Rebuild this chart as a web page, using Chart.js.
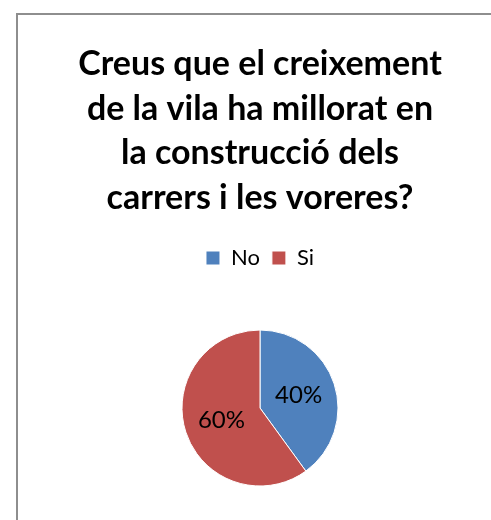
<!DOCTYPE html>
<html>
<head>
<meta charset="utf-8">
<script src="https://cdn.jsdelivr.net/npm/chart.js@4"></script>
<style>
  html, body { margin: 0; padding: 0; background: #fff; overflow: hidden; }
  .frame {
    position: absolute;
    left: 16px;
    top: 13px;
    width: 484px;
    height: 540px;
    border: 2px solid #8e8e8e;
    background: #fff;
  }
</style>
</head>
<body>
<div class="frame">
  <canvas id="pieChart" width="484" height="540"></canvas>
</div>
<script>
const titleLines = [
  "Creus que el creixement",
  "de la vila ha millorat en",
  "la construcció dels",
  "carrers i les voreres?",
];
const categories = ["No", "Si"];
const values = [40, 60];
const colors = ["#4f81bd", "#c0504d"];

// percentage labels drawn inside each slice
const sliceLabels = {
  id: "sliceLabels",
  afterDatasetsDraw(chart) {
    const ctx = chart.ctx;
    const meta = chart.getDatasetMeta(0);
    const total = values.reduce((a, b) => a + b, 0);
    ctx.save();
    ctx.font = "24px Lato";
    ctx.fillStyle = "#000";
    ctx.textAlign = "center";
    ctx.textBaseline = "middle";
    meta.data.forEach((arc, i) => {
      const mid = (arc.startAngle + arc.endAngle) / 2;
      const r = arc.outerRadius * 0.52;
      const x = arc.x + Math.cos(mid) * r;
      const y = arc.y + Math.sin(mid) * r;
      ctx.fillText(Math.round((values[i] / total) * 100) + "%", x, y);
    });
    ctx.restore();
  },
};

const ctx = document.getElementById("pieChart").getContext("2d");
new Chart(ctx, {
  type: "pie",
  data: {
    labels: categories,
    datasets: [
      {
        data: values,
        backgroundColor: colors,
        borderColor: "#fff",
        borderWidth: 1,
        radius: 78,
      },
    ],
  },
  options: {
    responsive: false,
    animation: false,
    layout: {
      padding: { bottom: 18 },
    },
    plugins: {
      title: {
        display: true,
        text: titleLines,
        color: "#000",
        font: { family: "Lato", size: 34, weight: "bold", lineHeight: "44.5px" },
        padding: { top: 27, bottom: 15 },
      },
      legend: {
        position: "top",
        labels: {
          color: "#000",
          font: { family: "Lato", size: 22 },
          boxWidth: 14,
          boxHeight: 14,
          padding: 12,
        },
      },
      tooltip: { enabled: false },
    },
  },
  plugins: [sliceLabels],
});
</script>
</body>
</html>
